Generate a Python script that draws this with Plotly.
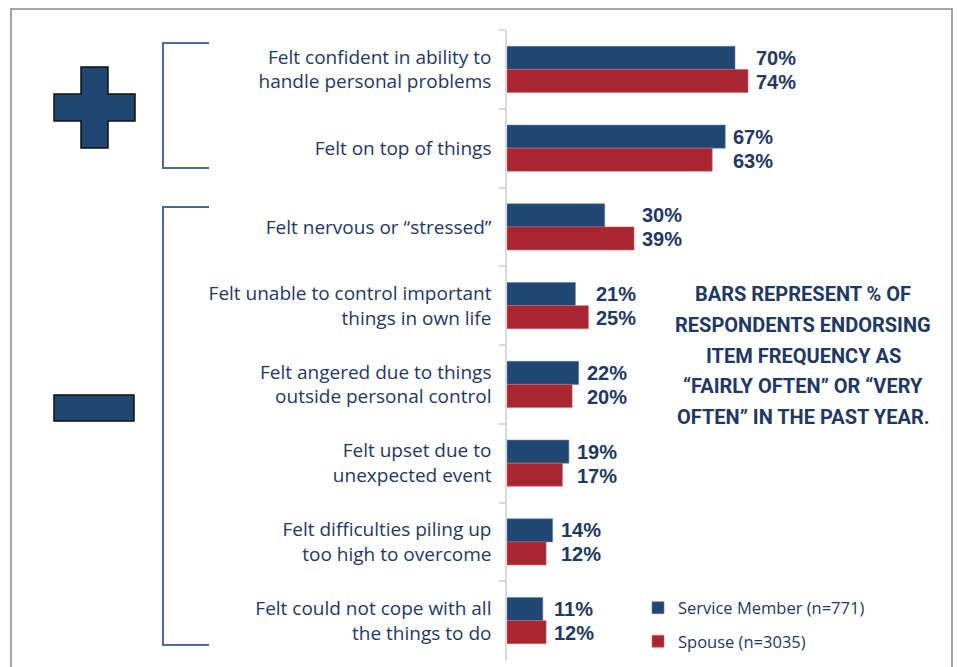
import plotly.graph_objects as go

categories = [
    "Felt confident in ability to<br>handle personal problems",
    "Felt on top of things",
    "Felt nervous or “stressed”",
    "Felt unable to control important<br>things in own life",
    "Felt angered due to things<br>outside personal control",
    "Felt upset due to<br>unexpected event",
    "Felt difficulties piling up<br>too high to overcome",
    "Felt could not cope with all<br>the things to do",
]
service_member = [70, 67, 30, 21, 22, 19, 14, 11]
spouse = [74, 63, 39, 25, 20, 17, 12, 12]
series_names = ["Service Member (n=771)", "Spouse (n=3035)"]
note_lines = [
    "BARS REPRESENT % OF",
    "RESPONDENTS ENDORSING",
    "ITEM FREQUENCY AS",
    "“FAIRLY OFTEN” OR “VERY",
    "OFTEN” IN THE PAST YEAR.",
]

W, H = 958, 667
L, R, T, B = 507, 11, 30, 7
PW, PH = W - L - R, H - T - B
XMAX = PW / 3.257

def px(x):
    return (x - L) / PW

def py(y):
    return (H - B - y) / PH

BLUE = "#1F4771"
RED = "#A9252F"
NAVY = "#1F3864"
BRACKET = "#4C6A94"
FONT = "Open Sans, Liberation Sans, Arial, sans-serif"
VFONT = "Liberation Sans, Arial, sans-serif"

fig = go.Figure()
fig.add_trace(go.Bar(y=categories, x=service_member, orientation="h", name=series_names[0],
                     marker=dict(color=BLUE, line=dict(color="#5E7FA3", width=0.6)),
                     legendgroup="a", hoverinfo="x+y"))
fig.add_trace(go.Bar(y=categories, x=spouse, orientation="h", name=series_names[1],
                     marker=dict(color=RED, line=dict(color="#C96A70", width=0.6)),
                     legendgroup="b", hoverinfo="x+y"))

annotations = []
for c, a, b in zip(categories, service_member, spouse):
    m = max(a, b)
    for v, ys in ((a, 11.5), (b, -12.5)):
        annotations.append(dict(x=m, y=c, xref="x", yref="y", text=f"{v}%", showarrow=False,
                                xanchor="left", yanchor="middle", xshift=6, yshift=ys,
                                font=dict(family=VFONT, size=20, color=NAVY, weight="bold")))

note_y = [294, 325, 356, 386, 417]
for t, yy in zip(note_lines, note_y):
    annotations.append(dict(x=px(803), y=py(yy), xref="paper", yref="paper", text=t, showarrow=False,
                            xanchor="center", yanchor="middle",
                            font=dict(family="Roboto, Liberation Sans, sans-serif",
                                      size=20, color=NAVY, weight="bold")))

shapes = []
# outer border
shapes.append(dict(type="rect", xref="paper", yref="paper", x0=px(11), x1=px(952), y0=py(9), y1=py(672),
                   line=dict(color="#A6A6A6", width=2), fillcolor="rgba(0,0,0,0)", layer="below"))

def path(points):
    return "M" + "L".join(f"{px(x):.5f},{py(y):.5f}" for x, y in points) + "Z"

plus = [(81, 67), (108, 67), (108, 94), (135, 94), (135, 121), (108, 121), (108, 148),
        (81, 148), (81, 121), (54, 121), (54, 94), (81, 94)]
shapes.append(dict(type="path", xref="paper", yref="paper", path=path(plus),
                   fillcolor="#1F4771", line=dict(color="#111111", width=1.5)))
minus = [(54, 395), (134, 395), (134, 421), (54, 421)]
shapes.append(dict(type="path", xref="paper", yref="paper", path=path(minus),
                   fillcolor="#1F4771", line=dict(color="#111111", width=1.5)))

for top, bot in ((43, 168), (207, 645)):
    shapes.append(dict(type="path", xref="paper", yref="paper",
                       path=f"M{px(209)},{py(top)}L{px(163)},{py(top)}L{px(163)},{py(bot)}L{px(209)},{py(bot)}",
                       line=dict(color=BRACKET, width=2)))

fig.update_layout(
    width=W, height=H,
    margin=dict(l=L, r=R, t=T, b=B),
    paper_bgcolor="white", plot_bgcolor="white",
    barmode="group", bargap=0.415, bargroupgap=0,
    xaxis=dict(range=[0, XMAX], visible=False, fixedrange=True),
    yaxis=dict(type="category", categoryorder="array", categoryarray=categories, autorange="reversed",
               showline=True, linecolor="#D9D9D9", linewidth=1.5, ticks="outside", tickson="boundaries",
               ticklen=6, tickcolor="#D9D9D9", tickwidth=1.5, ticklabelstandoff=10,
               tickfont=dict(family=FONT, size=19, color=NAVY), showgrid=False, fixedrange=True),
    showlegend=True,
    legend=dict(x=px(638), y=py(624.5), xanchor="left", yanchor="middle", orientation="v",
                traceorder="grouped", tracegroupgap=9, font=dict(family=FONT, size=16.5, color=NAVY),
                bgcolor="rgba(0,0,0,0)"),
    annotations=annotations,
    shapes=shapes,
)

fig.write_html("out.html", config={"displayModeBar": False},
               post_script="document.body.style.margin='0';document.body.style.overflow='hidden';")
